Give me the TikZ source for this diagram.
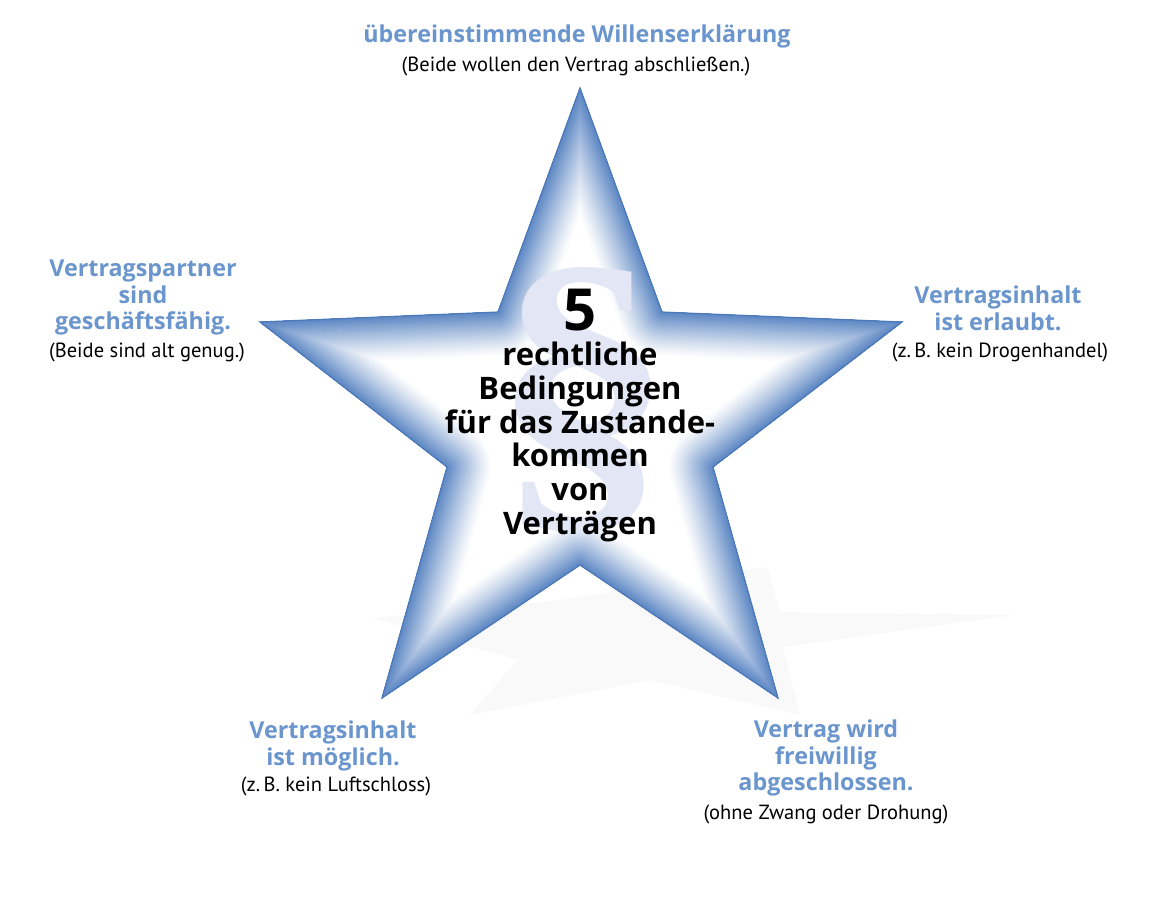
\documentclass[tikz,border=0pt]{standalone}
\usepackage{fontspec}
\setmainfont{PT Sans}
\newfontfamily\headfont{Open Sans}
\newfontfamily\parafont{Liberation Serif}
\definecolor{lblue}{HTML}{6A95CD}
\definecolor{sblue}{HTML}{5A85C3}
\definecolor{sedge}{HTML}{4C79BA}
\definecolor{paracol}{HTML}{E3E7F5}
\definecolor{shadecol}{HTML}{F9F9F9}
\tikzset{
  bluelabel/.style={font=\headfont\bfseries\fontsize{23.3}{26.5}\selectfont, text=lblue, align=center, inner sep=0pt, anchor=north},
  sublabel/.style={font=\fontsize{20.5}{22}\selectfont, text=black, align=center, inner sep=0pt, anchor=north},
  centertext/.style={font=\headfont\bfseries\fontsize{31}{33.7}\selectfont, text=black, align=center, inner sep=0pt, anchor=north}
}
\begin{document}
\begin{tikzpicture}[x=1pt,y=-1pt]
\useasboundingbox (0,0) rectangle (1156,900);
% star corners
\coordinate (T) at (580,88);
\coordinate (I1) at (662,312);
\coordinate (R) at (902,322);
\coordinate (I2) at (713,467);
\coordinate (BR) at (778,698);
\coordinate (IB) at (580,565);
\coordinate (BL) at (382,698);
\coordinate (I3) at (447,467);
\coordinate (L) at (260,322);
\coordinate (I4) at (498,312);
% faint shadow star
\fill[shadecol] (373,618) -- (560,600) -- (767,567) -- (780,612) -- (1015,615) -- (783,647) -- (800,715) -- (650,680) -- (470,715) -- (517,660) -- cycle;
% star with gradient edge
\begin{scope}
  \clip (T) -- (I1) -- (R) -- (I2) -- (BR) -- (IB) -- (BL) -- (I3) -- (L) -- (I4) -- cycle;
  \fill[white] (T) -- (I1) -- (R) -- (I2) -- (BR) -- (IB) -- (BL) -- (I3) -- (L) -- (I4) -- cycle;
  \foreach \i in {0,...,43} {
    \pgfmathsetmacro\dd{44-\i}
    \pgfmathsetmacro\pp{100*(1-\dd/45)^1.2}
    \draw[line width=2*\dd pt, color=sblue!\pp!white, line join=round]
      (T) -- (I1) -- (R) -- (I2) -- (BR) -- (IB) -- (BL) -- (I3) -- (L) -- (I4) -- cycle;
  }
\end{scope}
\draw[sedge, line width=1.2pt, line join=miter] (T) -- (I1) -- (R) -- (I2) -- (BR) -- (IB) -- (BL) -- (I3) -- (L) -- (I4) -- cycle;
% paragraph sign
\node[inner sep=0pt, text=paracol, font=\parafont\bfseries\fontsize{330}{330}\selectfont, xscale=1.1] (para) at (583,400) {§};
% centre text
\node[inner sep=0pt, font=\headfont\bfseries\fontsize{58}{58}\selectfont] (five) at (580,310) {5};
\node[centertext] (ctext) at (580,342) {rechtliche\\Bedingungen\\für das Zustande-\\kommen\\von\\Verträgen};
% labels
\node[bluelabel] (topb) at (577,25) {übereinstimmende Willenserklärung};
\node[sublabel] (tops) at (576,57) {(Beide wollen den Vertrag abschließen.)};
\node[bluelabel] (leftb) at (143,260) {Vertragspartner\\sind\\geschäftsfähig.};
\node[sublabel] (lefts) at (147,343) {(Beide sind alt genug.)};
\node[bluelabel] (rightb) at (998,286) {Vertragsinhalt\\ist erlaubt.};
\node[sublabel] (rights) at (1000,343) {(z.\,B. kein Drogenhandel)};
\node[bluelabel] (blb) at (333,721) {Vertragsinhalt\\ist möglich.};
\node[sublabel] (bls) at (336,777) {(z.\,B. kein Luftschloss)};
\node[bluelabel] (brb) at (826,720) {Vertrag wird\\freiwillig\\abgeschlossen.};
\node[sublabel] (brs) at (826,805) {(ohne Zwang oder Drohung)};
\end{tikzpicture}
\end{document}
